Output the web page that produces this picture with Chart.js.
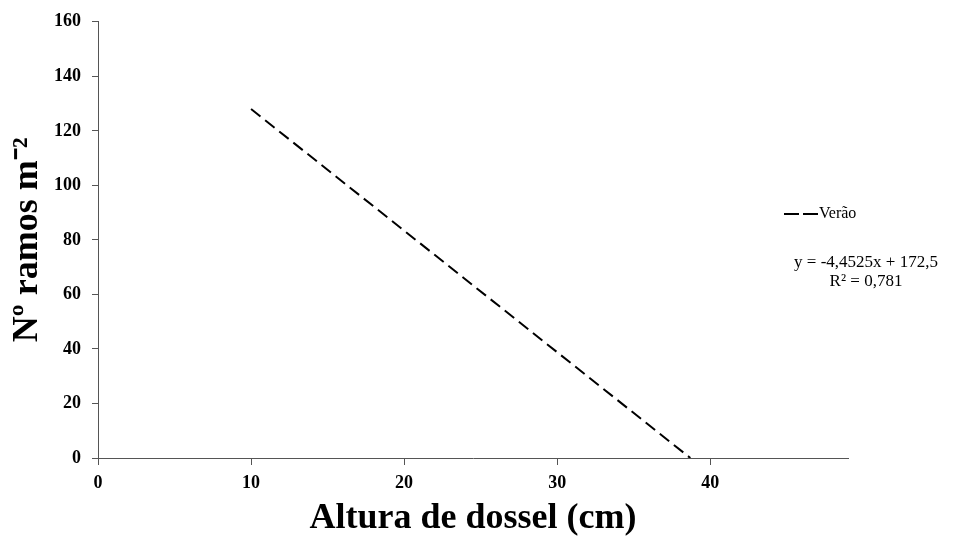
<!DOCTYPE html>
<html lang="pt">
<head>
<meta charset="UTF-8">
<title>Nº ramos x Altura de dossel</title>
<script src="https://cdn.jsdelivr.net/npm/chart.js"></script>
<style>
  html, body { margin: 0; padding: 0; background: #fff; }
  #wrap { width: 953px; height: 537px; }
</style>
</head>
<body>
<div id="wrap"><canvas id="grafico"></canvas></div>
<script>
    // dados
    const alturas = [10, 38.7];      // altura de dossel (cm)
    const ramos = [128, 0];          // nº ramos m-2
    const ticksX = [0, 10, 20, 30, 40];
    const equacao = ['y = -4,4525x + 172,5', 'R² = 0,781'];
    const rotulo = 'Verão';

    const pontos = alturas.map((x, i) => ({ x: x, y: ramos[i] }));

    // legenda e equação desenhadas à direita
    const legendaPlugin = {
        id: 'legenda',
        afterDraw(chart) {
            const ctx = chart.ctx;
            const ds = chart.data.datasets[0];
            ctx.save();
            ctx.strokeStyle = ds.borderColor;
            ctx.lineWidth = 2;
            ctx.setLineDash([15, 4]);
            ctx.beginPath();
            ctx.moveTo(784, 214);
            ctx.lineTo(818, 214);
            ctx.stroke();
            ctx.setLineDash([]);
            ctx.fillStyle = '#000';
            ctx.font = '16px "Liberation Serif"';
            ctx.textBaseline = 'middle';
            ctx.textAlign = 'left';
            ctx.fillText(ds.label, 819, 214);
            ctx.font = '17px "Liberation Serif"';
            ctx.textAlign = 'center';
            ctx.fillText(equacao[0], 866, 263);
            ctx.fillText(equacao[1], 866, 282);
            ctx.restore();
        }
    };

    const config = {
        type: 'line',
        data: {
            datasets: [{
                label: rotulo,
                data: pontos,
                borderColor: '#000',
                borderWidth: 2,
                borderDash: [12, 6],
                pointRadius: 0,
                fill: false
            }]
        },
        options: {
            responsive: true,
            maintainAspectRatio: false,
            animation: false,
            layout: { padding: { top: 21, right: 105, left: 0, bottom: 0 } },
            plugins: {
                legend: { display: false },
                tooltip: { enabled: false }
            },
            scales: {
                x: {
                    type: 'linear',
                    min: 0,
                    max: 49,
                    afterBuildTicks(scale) {
                        scale.ticks = ticksX.map(v => ({ value: v }));
                    },
                    afterFit(scale) { scale.height = 79; },
                    grid: { drawOnChartArea: false, color: '#555', tickLength: 7 },
                    border: { color: '#555', width: 1 },
                    ticks: {
                        color: '#000',
                        padding: 8,
                        maxRotation: 0,
                        font: { family: '"Liberation Serif"', size: 18, weight: 'bold' }
                    },
                    title: {
                        display: true,
                        text: 'Altura de dossel (cm)',
                        color: '#000',
                        padding: { top: 0, bottom: 0 },
                        font: { family: '"Liberation Serif"', size: 36, weight: 'bold', lineHeight: 1 }
                    }
                },
                y: {
                    min: 0,
                    max: 160,
                    afterFit(scale) { scale.width = 98; },
                    grid: { drawOnChartArea: false, color: '#555', tickLength: 6 },
                    border: { color: '#555', width: 1 },
                    ticks: {
                        stepSize: 20,
                        color: '#000',
                        padding: 11,
                        font: { family: '"Liberation Serif"', size: 18, weight: 'bold' }
                    },
                    title: {
                        display: true,
                        text: 'Nº ramos m⁻²',
                        color: '#000',
                        padding: { top: 10, bottom: 0 },
                        font: { family: '"Liberation Serif"', size: 36, weight: 'bold', lineHeight: 1 }
                    }
                }
            }
        },
        plugins: [legendaPlugin]
    };

    const grafico = new Chart(document.getElementById('grafico'), config);
</script>
</body>
</html>
